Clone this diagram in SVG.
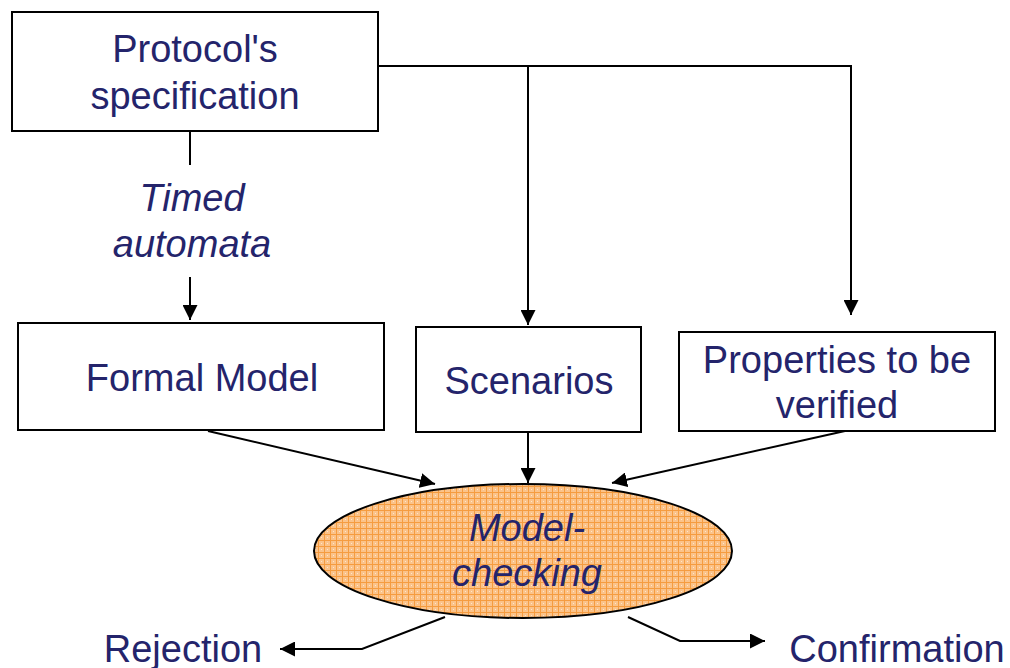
<svg xmlns="http://www.w3.org/2000/svg" width="1010" height="668" viewBox="0 0 1010 668">
<style>
.box{fill:#fff;stroke:#000;stroke-width:2}
.t{font-family:"Liberation Sans",Arial,sans-serif;font-size:38px;fill:#24246b;text-anchor:middle}
.i{font-style:italic}
.c{fill:none;stroke:#000;stroke-width:2}
</style>
<defs>
<marker id="ah" viewBox="0 0 10 10" refX="10" refY="5" markerWidth="15" markerHeight="15" markerUnits="userSpaceOnUse" orient="auto">
<path d="M0,0 L10,5 L0,10 z" fill="#000"/>
</marker>
<pattern id="grid" width="6" height="6" patternUnits="userSpaceOnUse">
<rect width="6" height="6" fill="#fbc38a"/>
<path d="M0,0.5 H6 M0.5,0 V6" stroke="#f59c40" stroke-width="1"/>
<rect x="3" y="3" width="1" height="1" fill="#fde6cc"/>
</pattern>
</defs>
<g id="connectors">
<path class="c" d="M190,131 V165"/>
<path class="c" d="M190,277 V320" marker-end="url(#ah)"/>
<path class="c" d="M378,66 H851 V315" marker-end="url(#ah)"/>
<path class="c" d="M528,66 V325" marker-end="url(#ah)"/>
<path class="c" d="M208,431 L435,484" marker-end="url(#ah)"/>
<path class="c" d="M528,432 V483" marker-end="url(#ah)"/>
<path class="c" d="M845,431 L612,483" marker-end="url(#ah)"/>
<path class="c" d="M445,617 L362,649 H280" marker-end="url(#ah)"/>
<path class="c" d="M628,617 L680,641 H765" marker-end="url(#ah)"/>
</g>
<g id="protocol">
<rect class="box" x="12" y="12" width="366" height="119"/>
<text class="t" x="195" y="62">Protocol's</text>
<text class="t" x="195" y="109">specification</text>
</g>
<g id="timed-label">
<text class="t i" x="192" y="211">Timed</text>
<text class="t i" x="192" y="257">automata</text>
</g>
<g id="formal-model">
<rect class="box" x="18" y="323" width="366" height="107"/>
<text class="t" x="202" y="391">Formal Model</text>
</g>
<g id="scenarios">
<rect class="box" x="416" y="327" width="225" height="105"/>
<text class="t" x="529" y="394">Scenarios</text>
</g>
<g id="properties">
<rect class="box" x="679" y="332" width="316" height="99"/>
<text class="t" x="837" y="373">Properties to be</text>
<text class="t" x="837" y="418">verified</text>
</g>
<g id="model-checking">
<ellipse cx="523" cy="551" rx="209" ry="67" fill="url(#grid)" stroke="#000" stroke-width="2"/>
<text class="t i" x="527" y="541">Model-</text>
<text class="t i" x="527" y="586">checking</text>
</g>
<g id="rejection">
<text class="t" x="183" y="662">Rejection</text>
</g>
<g id="confirmation">
<text class="t" x="897" y="662">Confirmation</text>
</g>
</svg>
